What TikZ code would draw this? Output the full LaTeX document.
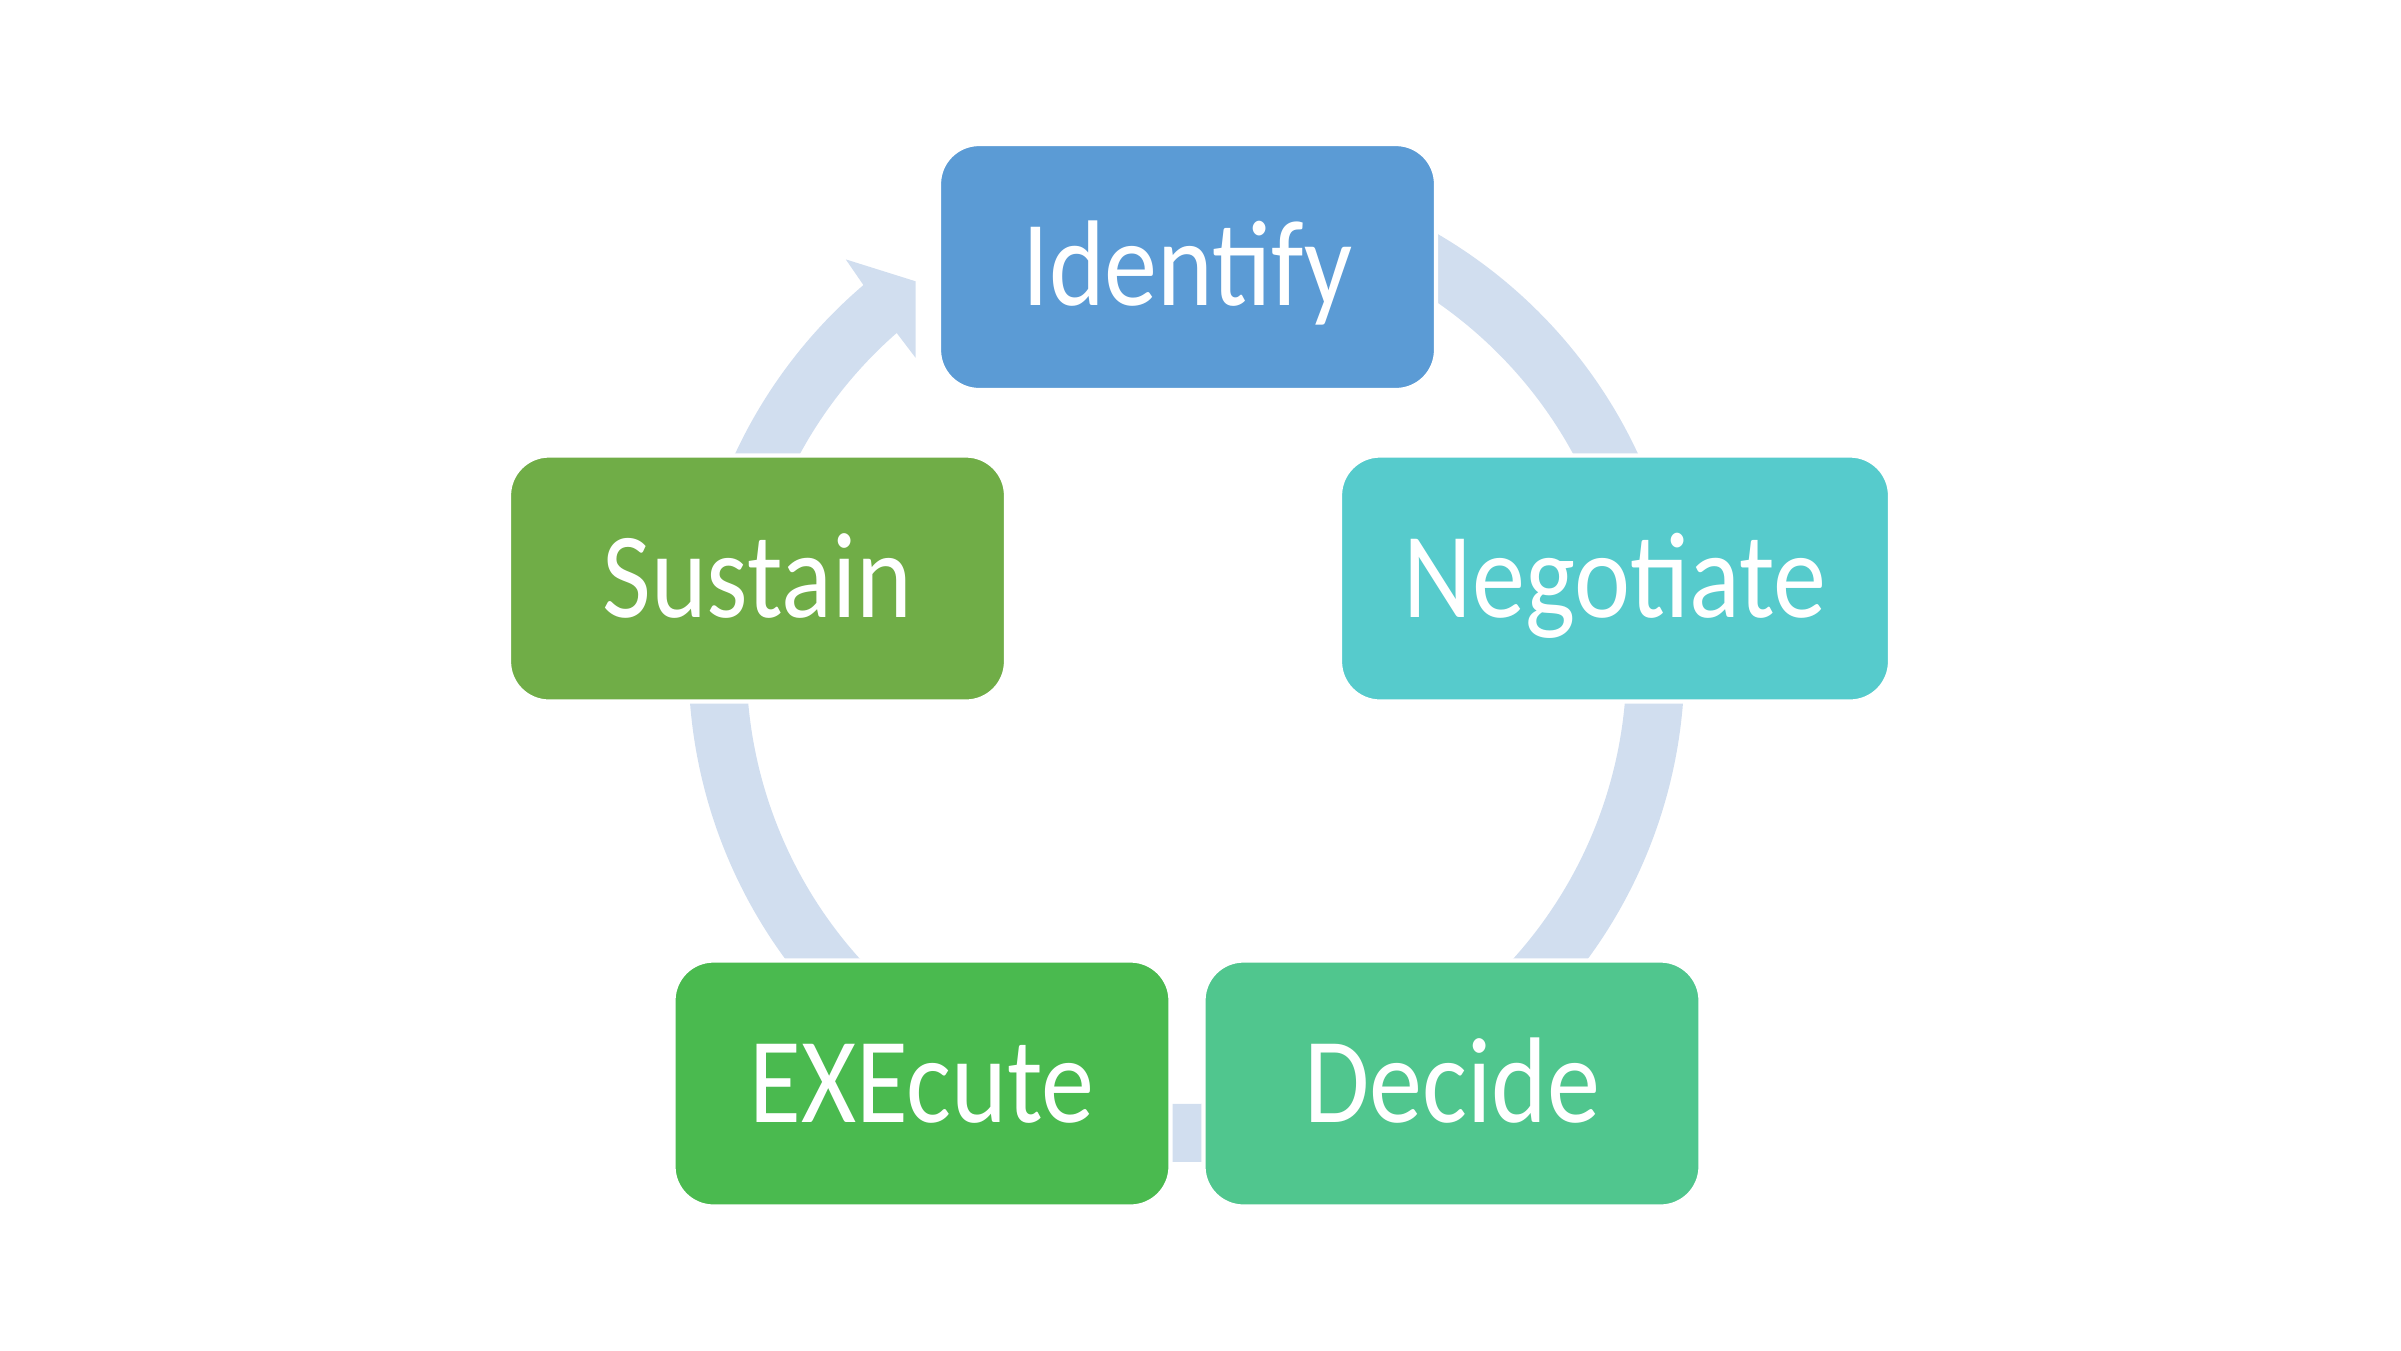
\documentclass[tikz,border=0pt]{standalone}
\usepackage{fontspec}
\setmainfont{Carlito}[FakeStretch=0.87]
\usetikzlibrary{backgrounds}
\definecolor{identifyblue}{HTML}{5B9BD5}
\definecolor{negotiateteal}{HTML}{56CBCC}
\definecolor{decidegreen}{HTML}{50C68E}
\definecolor{executegreen}{HTML}{4ABA4F}
\definecolor{sustaingreen}{HTML}{70AD47}
\definecolor{arcblue}{HTML}{D1DEEF}

\begin{document}
\begin{tikzpicture}[
    stage/.style={rectangle, rounded corners=0.4cm, draw=white, line width=1.2pt,
                  minimum width=4.97cm, minimum height=2.46cm, inner sep=0pt,
                  text=white, text height=0.77cm, text depth=0pt,
                  font=\fontsize{34.7}{40}\selectfont},
    cyclearc/.style={draw=arcblue, line width=0.58cm}]
    \useasboundingbox (0,0) rectangle (24.01,-13.5);

    % Stages
    \node[stage, fill=identifyblue] (identify) at (11.875,-2.67) {Identify};
    \node[stage, fill=negotiateteal, minimum width=5.5cm] (negotiate) at (16.15,-5.785) {Negotiate};
    \node[stage, fill=decidegreen] (decide) at (14.52,-10.835) {Decide};
    \node[stage, fill=executegreen] (execute) at (9.22,-10.835) {EXEcute};
    \node[stage, fill=sustaingreen] (sustain) at (7.575,-5.785) {Sustain};

    % Cycle arcs
    \coordinate (hub) at (11.865,-6.64);
    \begin{scope}[on background layer]
        \foreach \from/\to in {90/11.3, 11.3/-57.7, -57.7/-122.3, -122.3/-191.3}
            \draw[cyclearc] ([shift={(\from:4.69)}]hub) arc[start angle=\from, end angle=\to, radius=4.69];
        % back to Identify, with head
        \fill[arcblue, shift={(hub)}] (168.7:4.98) arc[start angle=168.7, end angle=130.45, radius=4.98]
            -- (130.1:5.29) -- (125.3:4.69) -- (131.5:4.09) -- (131.2:4.40)
            arc[start angle=131.2, end angle=168.7, radius=4.40] -- cycle;
    \end{scope}
\end{tikzpicture}
\end{document}
